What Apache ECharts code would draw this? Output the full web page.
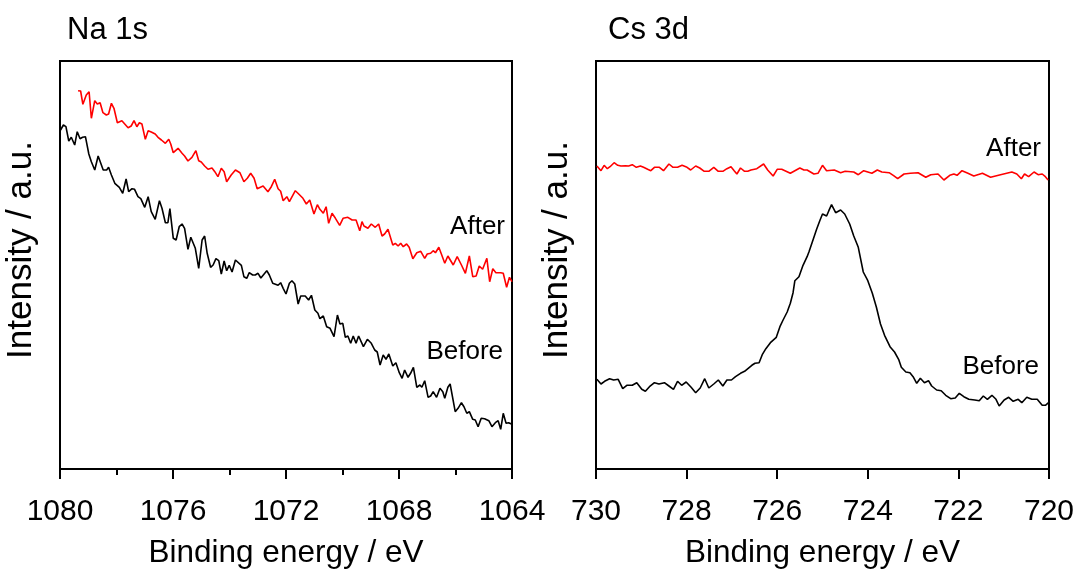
<!DOCTYPE html>
<html>
<head>
<meta charset="utf-8">
<script src="https://cdn.jsdelivr.net/npm/echarts@6/dist/echarts.min.js"></script>
<style>
  html, body { margin: 0; padding: 0; background: #fff; }
  #chart { width: 1076px; height: 569px; }
</style>
</head>
<body>
<div id="chart"></div>
<script>
// Na 1s panel (binding energy in eV, intensity in a.u.)
const naAfterE = [1079.36,1079.27,1079.19,1079.07,1078.97,1078.89,1078.77,1078.68,1078.58,1078.48,1078.36,1078.28,1078.18,1078.09,1077.97,1077.81,1077.59,1077.48,1077.38,1077.28,1077.19,1077.10,1076.98,1076.88,1076.77,1076.63,1076.53,1076.41,1076.27,1076.15,1076.08,1075.99,1075.82,1075.68,1075.59,1075.47,1075.33,1075.19,1075.09,1075.00,1074.88,1074.76,1074.62,1074.52,1074.41,1074.29,1074.19,1074.10,1073.94,1073.79,1073.63,1073.49,1073.37,1073.25,1073.13,1073.02,1072.81,1072.64,1072.52,1072.40,1072.28,1072.19,1072.10,1071.97,1071.88,1071.67,1071.55,1071.40,1071.28,1071.16,1071.01,1070.89,1070.80,1070.68,1070.58,1070.49,1070.37,1070.25,1070.10,1069.98,1069.81,1069.66,1069.52,1069.39,1069.31,1069.24,1069.10,1068.98,1068.84,1068.72,1068.60,1068.51,1068.39,1068.22,1068.13,1068.03,1067.94,1067.85,1067.73,1067.64,1067.51,1067.37,1067.23,1067.09,1067.00,1066.88,1066.79,1066.71,1066.59,1066.50,1066.38,1066.27,1066.08,1065.94,1065.79,1065.65,1065.51,1065.39,1065.27,1065.16,1065.04,1064.89,1064.79,1064.68,1064.57,1064.40,1064.31,1064.19,1064.09,1064.00];
const naAfterI = [378.3,378,364.7,374,377.3,350.7,368.3,365,366.3,356.3,354,355,365.7,360.7,346.3,348.3,341.3,343,348.3,342.3,346.3,345,329.7,338.3,337,335,331.7,329,325.7,329.7,325,316.3,320.7,315.7,313,308,311.7,318.3,308.3,307,303,299.7,301,297.3,292.3,300.7,297.3,287.3,294,299,296.3,287.3,290.7,295.7,290.7,280.3,283,277.3,282.3,289.7,280.3,277.7,268.3,272.3,267.3,278.3,275,270.7,265,269,255,264.3,259.7,255.7,262.3,245.7,255.7,250.7,243.7,250.7,251.7,249,249,238.3,247.3,243,240.7,245,241.7,245,233,235,239.7,224,225.7,223,225.7,222.3,225,221.7,210.3,216.3,217.7,210.7,215,215.7,218.3,216.3,221.7,215,205.7,213,204,212.3,204,195.7,213,192.3,193,203,199.7,210.7,187.3,200.3,196.3,196.3,195.7,181.7,191.7,187.3];
const naBeforeE = [1079.98,1079.88,1079.79,1079.69,1079.60,1079.48,1079.39,1079.29,1079.20,1079.10,1078.98,1078.89,1078.77,1078.65,1078.58,1078.47,1078.35,1078.28,1078.18,1078.06,1077.90,1077.78,1077.66,1077.57,1077.45,1077.36,1077.24,1077.14,1077.00,1076.88,1076.77,1076.63,1076.48,1076.39,1076.27,1076.18,1076.11,1075.99,1075.89,1075.78,1075.68,1075.59,1075.47,1075.37,1075.21,1075.09,1074.97,1074.88,1074.79,1074.67,1074.58,1074.48,1074.38,1074.29,1074.19,1074.10,1074.01,1073.91,1073.79,1073.58,1073.49,1073.39,1073.30,1073.18,1073.09,1072.99,1072.89,1072.68,1072.59,1072.47,1072.28,1072.19,1072.10,1072.00,1071.88,1071.79,1071.69,1071.57,1071.48,1071.32,1071.20,1071.10,1070.98,1070.87,1070.80,1070.68,1070.56,1070.44,1070.37,1070.30,1070.18,1070.09,1069.99,1069.90,1069.81,1069.71,1069.62,1069.52,1069.43,1069.26,1069.12,1068.98,1068.86,1068.77,1068.67,1068.56,1068.46,1068.36,1068.22,1068.11,1067.99,1067.89,1067.80,1067.68,1067.59,1067.49,1067.37,1067.26,1067.19,1067.09,1066.97,1066.88,1066.79,1066.67,1066.55,1066.45,1066.38,1066.27,1066.19,1066.01,1065.91,1065.79,1065.70,1065.60,1065.51,1065.39,1065.30,1065.20,1065.09,1064.97,1064.82,1064.71,1064.59,1064.49,1064.40,1064.31,1064.21,1064.12,1064.02];
const naBeforeI = [339,344,342.3,328,331.7,324,337.3,330.3,331.7,332.3,315,307.3,299,313,312.3,299,299,301.7,294,285.7,281.7,275.7,290,277.3,280.3,279.7,272.3,270.3,261.7,272.3,257.3,249.7,268.3,260.7,246.3,246.3,260.3,230.7,229,242.3,245,240.7,219.7,231.7,220.7,200.7,229,233,215.7,201.7,204,210.3,208.3,195,208,198.3,203.7,197,209,203.7,192.3,190.7,196.3,194,194,195.7,191,198.3,194,185.7,183.7,186.3,180.7,175,185.7,188.3,185,165,173,173,169,173.7,159,155.7,150.3,153,142.3,140.7,140.7,132.3,154,145,145.7,131.7,133,125.7,133,125.7,133,122.3,129.7,125.7,119,117,104,114,109.7,115,103,106.3,96.3,90.7,99,91.7,95.7,101.7,81.7,84,81.7,88.3,71.7,73,77.3,71.7,80.7,77.3,70.7,81.7,85,57.3,60.7,66.3,62.3,55.7,57.3,49.7,49,42.3,50.7,50.3,48.3,42.3,46.3,48.3,39.7,55.7,45.7,46.3,45];

// Cs 3d panel
const csAfterE = [729.98,729.89,729.82,729.75,729.69,729.60,729.52,729.45,729.35,729.28,729.20,729.11,729.02,728.95,728.86,728.79,728.71,728.60,728.51,728.39,728.30,728.20,728.10,727.99,727.91,727.80,727.71,727.61,727.51,727.40,727.30,727.20,727.11,727.02,726.95,726.89,726.81,726.72,726.65,726.58,726.45,726.30,726.21,726.09,726.00,725.90,725.71,725.50,725.41,725.34,725.19,725.10,725.00,724.91,724.74,724.60,724.50,724.31,724.21,724.09,723.91,723.79,723.69,723.53,723.43,723.34,723.20,723.06,722.89,722.72,722.61,722.45,722.32,722.19,722.10,722.03,721.92,721.79,721.66,721.47,721.29,721.07,720.82,720.71,720.61,720.54,720.45,720.33,720.24,720.15,720.08,720.02];
const csAfterI = [303,298.3,303.7,300.3,302.3,306.3,303.7,303,303.3,303,304.3,301.7,303,301.7,299.7,298.3,301.7,301.7,298.3,305,301.7,301.7,303.7,301.7,299,303,301,297.7,297.7,301.7,297.7,297.7,300.3,302.3,298.3,295,301,297.7,297.7,299,300.3,305,299,293,299.7,299.7,295.7,301,299,299,295,295.7,303.7,298.3,299,296.3,297.7,297,294.3,298.3,295.7,299,297,296.3,293.3,290.3,295,295.7,296.3,291.7,294.3,295,289,293.7,295,293.7,298.3,295.7,293,295.7,291.7,294.3,297,295,290.3,295,292.3,297,294.3,295,292.3,289];
const csBeforeE = [729.98,729.89,729.81,729.70,729.61,729.51,729.41,729.32,729.20,729.10,728.99,728.91,728.82,728.71,728.61,728.49,728.39,728.29,728.20,728.11,728.01,727.90,727.80,727.70,727.60,727.51,727.40,727.30,727.20,727.11,727.01,726.92,726.81,726.72,726.64,726.56,726.49,726.40,726.33,726.25,726.15,726.02,725.94,725.87,725.78,725.71,725.65,725.61,725.52,725.43,725.34,725.30,725.21,725.13,725.06,725.00,724.91,724.86,724.80,724.71,724.60,724.51,724.40,724.31,724.21,724.10,724.00,723.90,723.81,723.72,723.63,723.51,723.41,723.32,723.26,723.16,723.07,723.00,722.92,722.84,722.75,722.66,722.59,722.48,722.38,722.28,722.17,722.07,721.98,721.88,721.77,721.64,721.54,721.45,721.36,721.26,721.17,721.10,720.99,720.89,720.79,720.68,720.60,720.49,720.38,720.26,720.15,720.08,720.01];
const csBeforeI = [89.7,85,87.7,90.3,89,89.7,80.3,83.7,83.7,86.3,79.7,77.7,82.3,86.3,85,86.3,83,79.7,87.7,83.7,87,81.7,76.3,81,90.3,81,85,89,83,89,89,92.3,95.7,97.7,100.7,103.7,105.7,106.3,114.3,120.3,126.3,131.7,142.3,149,157,165.7,176.3,188.3,192.3,203.7,212.3,217,229,239.7,248.3,255,253,258.3,264.3,256.3,259,255,245,233,221.7,197,188.3,175.7,161.7,145,133.7,122.3,117,109.7,101.7,97,96.3,92.3,85.7,90.7,86.3,88.3,83,79,78.3,73.7,70.3,71,75.7,72.3,69.7,69,68.3,73,69.7,73.7,69.7,63,69,71.7,67.7,69.7,66.3,71.7,69.7,69.7,63.7,63.7,66.3];

const panelTitles = ['Na 1s', 'Cs 3d'];
const seriesNames = ['After', 'Before'];

function pairs(xs, ys) {
  return xs.map((x, i) => [x, ys[i]]);
}

const FONT = 'Liberation Sans, Arial, sans-serif';
const chart = echarts.init(document.getElementById('chart'));

function xAxisFor(gridIndex, min, max, interval, minor) {
  return {
    gridIndex: gridIndex,
    type: 'value',
    inverse: true,
    min: min,
    max: max,
    interval: interval,
    name: 'Binding energy / eV',
    nameLocation: 'middle',
    nameGap: 68,
    nameTextStyle: { color: '#000', fontSize: 31.5, fontFamily: FONT },
    axisLine: { show: true, onZero: false, lineStyle: { color: '#000', width: 2 } },
    axisTick: { show: true, inside: false, length: 10, lineStyle: { color: '#000', width: 2 } },
    minorTick: { show: minor, splitNumber: 2, length: 6, lineStyle: { color: '#000', width: 2 } },
    axisLabel: { color: '#000', fontSize: 30, fontFamily: FONT, margin: 28, formatter: v => String(v) },
    splitLine: { show: false }
  };
}

function yAxisFor(gridIndex) {
  return {
    gridIndex: gridIndex,
    type: 'value',
    min: 0,
    max: 408,
    name: 'Intensity / a.u.',
    nameLocation: 'middle',
    nameGap: 21,
    nameTextStyle: { color: '#000', fontSize: 35, fontFamily: FONT, padding: [0, 0, 0, 30] },
    axisLine: { show: true, lineStyle: { color: '#000', width: 2 } },
    axisTick: { show: false },
    axisLabel: { show: false },
    splitLine: { show: false }
  };
}

function lineSeries(name, idx, data, color) {
  return {
    name: name,
    type: 'line',
    xAxisIndex: idx,
    yAxisIndex: idx,
    data: data,
    showSymbol: false,
    lineStyle: { color: color, width: 1.6 },
    silent: true
  };
}

const titleStyle = { color: '#000', fontSize: 31, fontWeight: 'normal', fontFamily: FONT };

const option = {
  animation: false,
  backgroundColor: '#fff',
  title: [
    { text: panelTitles[0], left: 62, top: 10, textStyle: titleStyle },
    { text: panelTitles[1], left: 603, top: 10, textStyle: titleStyle }
  ],
  grid: [
    { left: 60, width: 452, top: 61, height: 408, show: true, borderColor: '#000', borderWidth: 2, outerBoundsMode: 'none', containLabel: false },
    { left: 596, width: 453, top: 61, height: 408, show: true, borderColor: '#000', borderWidth: 2, outerBoundsMode: 'none', containLabel: false }
  ],
  xAxis: [
    xAxisFor(0, 1064, 1080, 4, true),
    xAxisFor(1, 720, 730, 2, false)
  ],
  yAxis: [yAxisFor(0), yAxisFor(1)],
  series: [
    lineSeries(seriesNames[0], 0, pairs(naAfterE, naAfterI), '#ff0000'),
    lineSeries(seriesNames[1], 0, pairs(naBeforeE, naBeforeI), '#000000'),
    lineSeries(seriesNames[0], 1, pairs(csAfterE, csAfterI), '#ff0000'),
    lineSeries(seriesNames[1], 1, pairs(csBeforeE, csBeforeI), '#000000')
  ],
  graphic: [
    { type: 'text', x: 505, y: 227, style: { text: seriesNames[0], fill: '#000', font: '26px ' + FONT, textAlign: 'right', textVerticalAlign: 'middle' } },
    { type: 'text', x: 503, y: 352, style: { text: seriesNames[1], fill: '#000', font: '26px ' + FONT, textAlign: 'right', textVerticalAlign: 'middle' } },
    { type: 'text', x: 1041, y: 149, style: { text: seriesNames[0], fill: '#000', font: '26px ' + FONT, textAlign: 'right', textVerticalAlign: 'middle' } },
    { type: 'text', x: 1039, y: 367, style: { text: seriesNames[1], fill: '#000', font: '26px ' + FONT, textAlign: 'right', textVerticalAlign: 'middle' } }
  ]
};

chart.setOption(option);
</script>
</body>
</html>
